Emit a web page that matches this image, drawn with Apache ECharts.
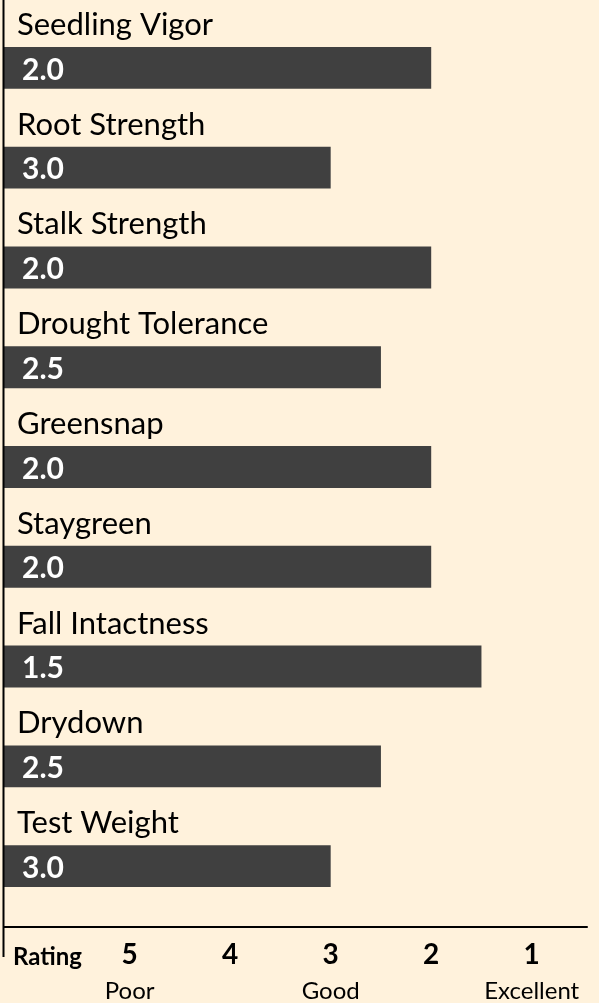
<!DOCTYPE html>
<html>
<head>
<meta charset="utf-8">
<script src="https://cdn.jsdelivr.net/npm/echarts@6/dist/echarts.min.js"></script>
<style>
  html, body { margin: 0; padding: 0; background: #FFF2DC; }
  #chart { width: 599px; height: 1003px; }
</style>
</head>
<body>
<div id="chart"></div>
<script>
const categories = ['Seedling Vigor', 'Root Strength', 'Stalk Strength', 'Drought Tolerance', 'Greensnap', 'Staygreen', 'Fall Intactness', 'Drydown', 'Test Weight'];
const ratings = [2.0, 3.0, 2.0, 2.5, 2.0, 2.0, 1.5, 2.5, 3.0];
const tickValues = [5, 4, 3, 2, 1];
const tickWords = ['Poor', '', 'Good', '', 'Excellent'];
const axisTitle = 'Rating';

const AXIS_MIN = 0.45;
const AXIS_MAX = 6.25;
const FONT = 'Lato, "Open Sans", sans-serif';

const chart = echarts.init(document.getElementById('chart'), null, { renderer: 'canvas' });

chart.setOption({
  backgroundColor: '#FFF2DC',
  textStyle: { fontFamily: FONT },
  animation: false,
  grid: { left: 4, right: 12, top: 29, bottom: 74, containLabel: false },
  xAxis: {
    type: 'value',
    inverse: true,
    min: AXIS_MIN,
    max: AXIS_MAX,
    splitLine: { show: false },
    axisTick: { show: false },
    axisLine: { show: true, onZero: false, lineStyle: { color: '#000', width: 2 } },
    axisLabel: {
      showMinLabel: true,
      showMaxLabel: true,
      margin: 13,
      customValues: tickValues,
      formatter: function (v) {
        const i = tickValues.indexOf(v);
        if (i < 0) return '';
        return tickWords[i] ? '{n|' + v + '}\n{s|' + tickWords[i] + '}' : '{n|' + v + '}';
      },
      rich: {
        n: { fontFamily: FONT, fontWeight: 'bold', fontSize: 28, lineHeight: 30, color: '#000' },
        s: { fontFamily: FONT, fontSize: 24, lineHeight: 42, color: '#000' }
      }
    }
  },
  yAxis: {
    type: 'category',
    inverse: true,
    data: categories,
    axisLine: { show: false },
    axisTick: { show: false },
    splitLine: { show: false },
    axisLabel: { show: false }
  },
  graphic: [
    { type: 'line', shape: { x1: 3.5, y1: 0, x2: 3.5, y2: 957 }, style: { stroke: '#000', lineWidth: 2 }, z: 10 },
    { type: 'text', x: 13, y: 957, style: { text: axisTitle, font: 'bold 24px ' + FONT, fill: '#000', textAlign: 'left', textVerticalAlign: 'middle' }, z: 10 }
  ],
  series: [{
    type: 'custom',
    clip: false,
    encode: { x: 0, y: 1 },
    data: ratings.map((r, i) => [r, i]),
    renderItem: function (params, api) {
      const idx = api.value(1);
      const r = api.value(0);
      const start = api.coord([AXIS_MAX, idx]);
      const end = api.coord([r, idx]);
      const h = api.size([0, 1])[1] * 0.42;
      const cy = start[1] - 11;
      return {
        type: 'group',
        children: [
          { type: 'text', x: start[0] + 13, y: cy - 43, style: { text: categories[idx], fill: '#000', font: '31px ' + FONT, textAlign: 'left', textVerticalAlign: 'middle' } },
          { type: 'rect', shape: { x: start[0], y: cy - h / 2, width: end[0] - start[0], height: h }, style: { fill: '#404040' } },
          { type: 'text', x: start[0] + 18, y: cy + 2, style: { text: r.toFixed(1), fill: '#fff', font: 'bold 30px ' + FONT, textAlign: 'left', textVerticalAlign: 'middle' } }
        ]
      };
    }
  }]
});
</script>
</body>
</html>
